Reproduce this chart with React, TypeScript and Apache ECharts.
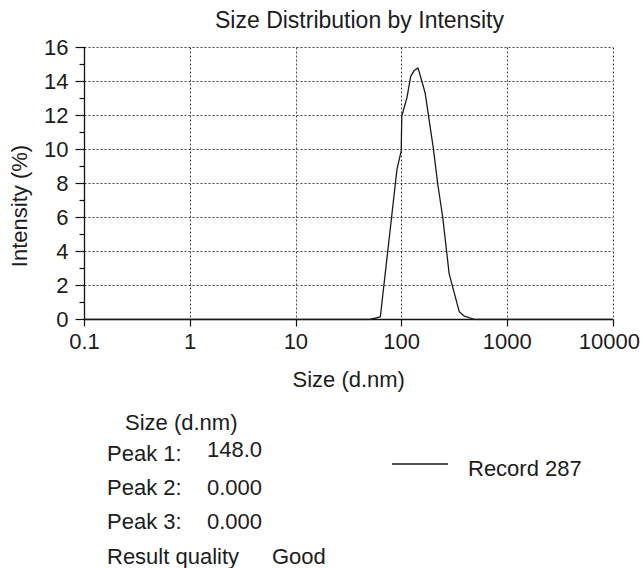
import React, { useEffect, useRef } from "react";
import * as echarts from "echarts";

// Size (d.nm) and Intensity (%)
const sizes = [0.1, 50, 63, 90.6, 99.3, 100.5, 112.6, 122, 131.8, 143.3, 167, 199.6, 220, 245.5, 282, 352, 391, 497, 10000];
const intensity = [0, 0, 0.16, 8.85, 9.92, 11.97, 13.05, 14.3, 14.65, 14.8, 13.34, 10.1, 7.97, 6.0, 2.7, 0.45, 0.2, 0, 0];

const titleText = "Size Distribution by Intensity";
const xName = "Size (d.nm)";
const yName = "Intensity (%)";
const seriesName = "Record 287";
const infoHeader = "Size (d.nm)";
const peakLabels = ["Peak 1:", "Peak 2:", "Peak 3:"];
const peakValues = ["148.0", "0.000", "0.000"];
const qualityLabel = "Result quality";
const qualityValue = "Good";

const FONT = "'Liberation Sans', Arial, Helvetica, sans-serif";
const INK = "#1c1c1c";
const FS = 22;

export default function App() {
  const ref = useRef<HTMLDivElement>(null);

  useEffect(() => {
    const chart = echarts.init(ref.current!, null, { renderer: "svg" });
    const txt = (text: string, x: number, y: number) => ({
      type: "text",
      x,
      y,
      style: { text, fontSize: FS, fontFamily: FONT, fill: INK, verticalAlign: "middle", align: "left" },
    });
    const rowY = [453, 487, 521];
    const graphics: any[] = [txt(infoHeader, 125, 422)];
    peakLabels.forEach((l, i) => {
      graphics.push(txt(l, 107, rowY[i]));
      graphics.push(txt(peakValues[i], 207, rowY[i] - (i === 0 ? 4 : 0)));
    });
    graphics.push(txt(qualityLabel, 107, 556));
    graphics.push(txt(qualityValue, 272, 556));

    const grid = { left: 84.5, right: 25, top: 47.5, bottom: 248.5 };
    chart.setOption({
      animation: false,
      backgroundColor: "#fff",
      textStyle: { fontFamily: FONT, color: INK },
      title: {
        text: titleText,
        left: 215,
        top: 8,
        padding: 0,
        textStyle: { fontSize: 23, fontWeight: "normal", fontFamily: FONT, color: INK },
      },
      legend: {
        data: [seriesName],
        left: 392,
        top: 457,
        padding: 0,
        itemWidth: 56,
        itemHeight: 9.4,
        icon: "path://M0,0H56V1.4H0Z M0,9.4H56Z",
        itemStyle: { color: "#1a1a1a" },
        textStyle: { fontSize: FS, fontFamily: FONT, color: INK, padding: [0, 0, 0, 15] },
      },
      grid,
      xAxis: {
        type: "log",
        logBase: 10,
        min: 0.1,
        max: 10000,
        name: xName,
        nameLocation: "middle",
        nameGap: 49,
        nameTextStyle: { fontSize: FS, fontFamily: FONT, color: INK },
        axisLine: { show: true, lineStyle: { color: "#111", width: 1.3 } },
        axisTick: { show: true, length: 7, lineStyle: { color: "#111", width: 1.2 } },
        minorTick: { show: false },
        splitLine: { show: true, lineStyle: { color: "#444", width: 1, type: [2, 2] } },
        axisLabel: {
          fontSize: FS,
          fontFamily: FONT,
          color: INK,
          margin: 11,
          formatter: (v: number) => {
            const s = String(+Number(v).toPrecision(6));
            return v >= 9999 ? "{last|" + s + "}" : s;
          },
          rich: { last: { fontSize: FS, fontFamily: FONT, color: INK, padding: [0, 7, 0, 0] } },
        },
      },
      yAxis: {
        type: "value",
        min: 0,
        max: 16,
        interval: 2,
        name: yName,
        nameLocation: "middle",
        nameGap: 54,
        nameTextStyle: { fontSize: FS, fontFamily: FONT, color: INK, padding: [0, 45, 0, 0] },
        axisLine: { show: true, lineStyle: { color: "#111", width: 1.3 } },
        axisTick: { show: true, length: 9, lineStyle: { color: "#111", width: 1.2 } },
        minorTick: { show: true, splitNumber: 2, length: 5, lineStyle: { color: "#111", width: 1.2 } },
        splitLine: { show: true, lineStyle: { color: "#444", width: 1, type: [2, 2] } },
        axisLabel: { fontSize: FS, fontFamily: FONT, color: INK, margin: 16 },
      },
      series: [
        {
          name: seriesName,
          type: "line",
          data: sizes.map((s, i) => [s, intensity[i]]),
          symbol: "none",
          lineStyle: { color: "#1a1a1a", width: 1.3 },
          itemStyle: { color: "#1a1a1a" },
        },
      ],
      graphic: graphics,
    });
    return () => chart.dispose();
  }, []);

  return (
    <div
      ref={ref}
      style={{ position: "fixed", left: 0, top: 0, width: 643, height: 568, background: "#fff" }}
    />
  );
}
